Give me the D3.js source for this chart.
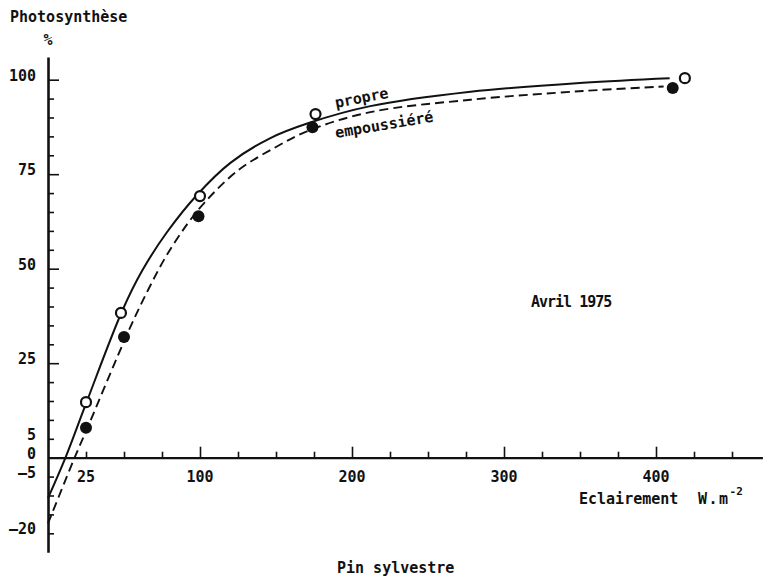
<!DOCTYPE html>
<html lang="fr">
  <head>
    <meta charset="utf-8">
    <title>Photosynthèse - Pin sylvestre</title>
    <script src="https://cdn.jsdelivr.net/npm/d3@7/dist/d3.min.js"></script>
    <style>
      body { margin: 0; background: #fff; }
      svg text {
        font-family: "DejaVu Sans Mono", monospace;
        font-size: 15px;
        font-weight: bold;
        fill: #111;
        white-space: pre;
      }
      .axis path, .axis line { stroke: #111; }
    </style>
  </head>
  <body>
    <script>
      // measured points (Eclairement W.m-2, photosynthese %)
      var propreX = [25, 48, 100, 176, 419];
      var propreY = [14.7, 38.3, 69.2, 90.9, 100.4];
      var poussX = [25, 50, 99, 174, 411];
      var poussY = [7.9, 31.9, 63.9, 87.4, 97.8];

      // curves as drawn on the figure
      var curvePropreX = [0, 11.5, 25, 49, 62, 78, 98, 120, 146, 172, 212, 278, 352, 409];
      var curvePropreY = [-10.7, 0, 14.3, 39, 49.5, 59.5, 69.5, 78, 84.5, 88.6, 93, 96.8, 99.2, 100.4];
      var curvePoussX = [0, 17.5, 25, 53, 66, 78, 92, 103, 125, 150, 172, 212, 278, 352, 405];
      var curvePoussY = [-17.4, 0, 7, 33.5, 44.5, 53.5, 62, 67.5, 76, 82.2, 86.6, 91.4, 94.7, 97, 98.2];

      var yLabels = [100, 75, 50, 25, 5, 0, -5, -20];
      var yMajor = [25, 50, 75, 100];
      var yMinor = [-20, -15, -10, -5, 5, 10, 15, 20, 30, 35, 40, 45, 55, 60, 65, 70, 80, 85, 90, 95];
      var xLabels = [25, 100, 200, 300, 400];
      var xMajor = [100, 200, 300, 400];
      var xMinor = [25, 50, 75, 125, 150, 175, 225, 250, 275, 325, 350, 375, 425, 450];

      var width = 769, height = 580;

      var svg = d3.select("body").append("svg")
                  .attr("width", width)
                  .attr("height", height);

      var x = d3.scaleLinear().domain([0, 470]).range([48, 762.4]);
      var y = d3.scaleLinear().domain([-25, 106]).range([552.2, 57]);

      // x axis, ticks pointing up
      svg.append("g").attr("class", "axis")
         .attr("transform", "translate(0," + y(0) + ")")
         .call(d3.axisTop(x).tickValues(xMinor).tickSize(6).tickSizeOuter(0).tickFormat(""))
         .call(g => g.select("path").attr("stroke-width", 2.2));
      svg.append("g").attr("class", "axis")
         .attr("transform", "translate(0," + y(0) + ")")
         .call(d3.axisTop(x).tickValues(xMajor).tickSize(11).tickSizeOuter(0).tickFormat(""))
         .call(g => g.select("path").remove());

      // y axis, ticks pointing right
      svg.append("g").attr("class", "axis")
         .attr("transform", "translate(" + x(0) + ",0)")
         .call(d3.axisRight(y).tickValues(yMinor).tickSize(6).tickSizeOuter(0).tickFormat(""))
         .call(g => g.select("path").attr("stroke-width", 2.6));
      svg.append("g").attr("class", "axis")
         .attr("transform", "translate(" + x(0) + ",0)")
         .call(d3.axisRight(y).tickValues(yMajor).tickSize(11).tickSizeOuter(0).tickFormat(""))
         .call(g => g.select("path").remove());
      svg.selectAll("g.axis line").attr("stroke-width", 1.6);

      svg.append("g").selectAll("text")
         .data(yLabels).enter().append("text")
         .attr("x", 36)
         .attr("y", d => y(d) + 1)
         .attr("text-anchor", "end")
         .text(d => d < 0 ? "\u2013" + Math.abs(d) : d);

      svg.append("g").selectAll("text")
         .data(xLabels).enter().append("text")
         .attr("x", d => x(d))
         .attr("y", 482)
         .attr("text-anchor", "middle")
         .text(d => d);

      // curves
      var line = d3.line()
                   .x(d => x(d[0]))
                   .y(d => y(d[1]))
                   .curve(d3.curveCatmullRom.alpha(0.5));

      svg.append("path")
         .datum(d3.zip(curvePropreX, curvePropreY))
         .attr("d", line)
         .attr("fill", "none")
         .attr("stroke", "#111")
         .attr("stroke-width", 2);

      svg.append("path")
         .datum(d3.zip(curvePoussX, curvePoussY))
         .attr("d", line)
         .attr("fill", "none")
         .attr("stroke", "#111")
         .attr("stroke-width", 1.9)
         .attr("stroke-dasharray", "9,5");

      // points
      svg.append("g").selectAll("circle")
         .data(d3.zip(propreX, propreY)).enter().append("circle")
         .attr("cx", d => x(d[0]))
         .attr("cy", d => y(d[1]))
         .attr("r", 5)
         .attr("fill", "#fff")
         .attr("stroke", "#111")
         .attr("stroke-width", 2.2);

      svg.append("g").selectAll("circle")
         .data(d3.zip(poussX, poussY)).enter().append("circle")
         .attr("cx", d => x(d[0]))
         .attr("cy", d => y(d[1]))
         .attr("r", 6)
         .attr("fill", "#111");

      // labels
      svg.append("text").attr("x", 10).attr("y", 22).text("Photosynthèse");
      svg.append("text").attr("x", 48).attr("y", 45).attr("text-anchor", "middle")
         .text("%");

      svg.append("text")
         .attr("transform", "translate(336,108) rotate(-11)")
         .text("propre");
      svg.append("text")
         .attr("transform", "translate(336,138) rotate(-9.5)")
         .text("empoussiéré");

      svg.append("text").attr("x", 531).attr("y", 307)
         .style("letter-spacing", "-1px").text("Avril 1975");

      svg.append("text").attr("x", 579).attr("y", 504).text("Eclairement");
      var wm = svg.append("text").attr("x", 698).attr("y", 504);
      wm.append("tspan").style("letter-spacing", "1.5px").text("W.m");
      wm.append("tspan").attr("dy", -9).style("font-size", "11px").text("-2");

      svg.append("text").attr("x", 337).attr("y", 573).text("Pin sylvestre");
    </script>
  </body>
</html>
